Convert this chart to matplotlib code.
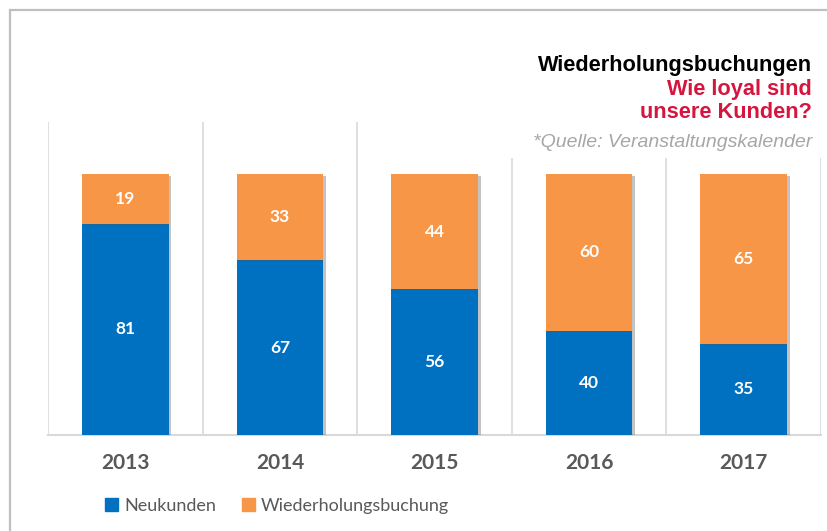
import numpy as np
import matplotlib
matplotlib.use("Agg")
import matplotlib.pyplot as plt
import matplotlib.patches as mpatches
import matplotlib.patheffects as pe

years = ["2013", "2014", "2015", "2016", "2017"]
neukunden = [81, 67, 56, 40, 35]
wiederholung = [19, 33, 44, 60, 65]

blue = "#0070C0"
orange = "#F79646"
gray_txt = "#595959"

plt.rcParams["font.family"] = ["Lato", "DejaVu Sans"]

W, H = 827, 531
fig = plt.figure(figsize=(W / 100, H / 100), dpi=100)
fig.patch.set_facecolor("white")

# plot area in pixels: x 48..821, y 122..435
ax = fig.add_axes([48 / W, 1 - 435 / H, (821 - 48) / W, (435 - 122) / H])
x = np.arange(len(years))
shadow = [pe.SimplePatchShadow(offset=(2, -1), alpha=0.35, shadow_rgbFace="#555555"), pe.Normal()]
b1 = ax.bar(x, neukunden, width=0.56, color=blue, zorder=3)
b2 = ax.bar(x, wiederholung, width=0.56, bottom=neukunden, color=orange, zorder=3)
for b in list(b1) + list(b2):
    b.set_path_effects(shadow)

for i in range(len(years)):
    ax.text(x[i], neukunden[i] / 2, str(neukunden[i]), ha="center", va="center",
            color="white", fontsize=12.5, fontweight="bold", zorder=4)
    ax.text(x[i], neukunden[i] + wiederholung[i] / 2, str(wiederholung[i]), ha="center",
            va="center", color="white", fontsize=12.5, fontweight="bold", zorder=4)

ax.set_xlim(-0.5, len(years) - 0.5)
ax.set_ylim(0, 120)
ax.set_yticks([])
ax.set_xticks(x)
ax.set_xticklabels(years, fontsize=15, fontweight="bold", color=gray_txt)
ax.tick_params(axis="x", length=0, pad=13)
for b in np.arange(-0.5, len(years), 1.0):
    ax.axvline(b, color="#D9D9D9", lw=1.2, zorder=1)
for s in ["top", "left", "right"]:
    ax.spines[s].set_visible(False)
ax.spines["bottom"].set_color("#D9D9D9")
ax.spines["bottom"].set_linewidth(1.5)

# white box behind the title block
fig.patches.append(mpatches.Rectangle((505 / W, 1 - 158 / H), (W - 505) / W, 118 / H,
                                      transform=fig.transFigure, facecolor="white",
                                      edgecolor="none", zorder=1))
# outer frame
fig.patches.append(mpatches.Rectangle((9.5 / W, -0.05), 1.1, 1 - 9.5 / H + 0.05,
                                      transform=fig.transFigure, facecolor="none",
                                      edgecolor="#BFBFBF", lw=1.6, zorder=2))

tf = ["Liberation Sans", "DejaVu Sans"]
fig.text(812 / W, 1 - 66 / H, "Wiederholungsbuchungen", ha="right", va="center",
         fontsize=15.7, fontweight="bold", color="black", family=tf)
fig.text(812 / W, 1 - 89 / H, "Wie loyal sind", ha="right", va="center",
         fontsize=15.7, fontweight="bold", color="#D6153F", family=tf)
fig.text(812 / W, 1 - 113 / H, "unsere Kunden?", ha="right", va="center",
         fontsize=15.7, fontweight="bold", color="#D6153F", family=tf)
fig.text(812 / W, 1 - 143 / H, "*Quelle: Veranstaltungskalender", ha="right", va="center",
         fontsize=14, style="italic", color="#A6A6A6", family=tf)

handles = [mpatches.Patch(color=blue, label="Neukunden"),
           mpatches.Patch(color=orange, label="Wiederholungsbuchung")]
fig.legend(handles=handles, loc="center left", bbox_to_anchor=(105 / W, 1 - 506 / H),
           ncol=2, frameon=False, fontsize=13, labelcolor=gray_txt,
           handlelength=0.7, handleheight=0.7, handletextpad=0.35, columnspacing=1.45,
           borderaxespad=0, borderpad=0)

fig.savefig("out.png", dpi=100)
